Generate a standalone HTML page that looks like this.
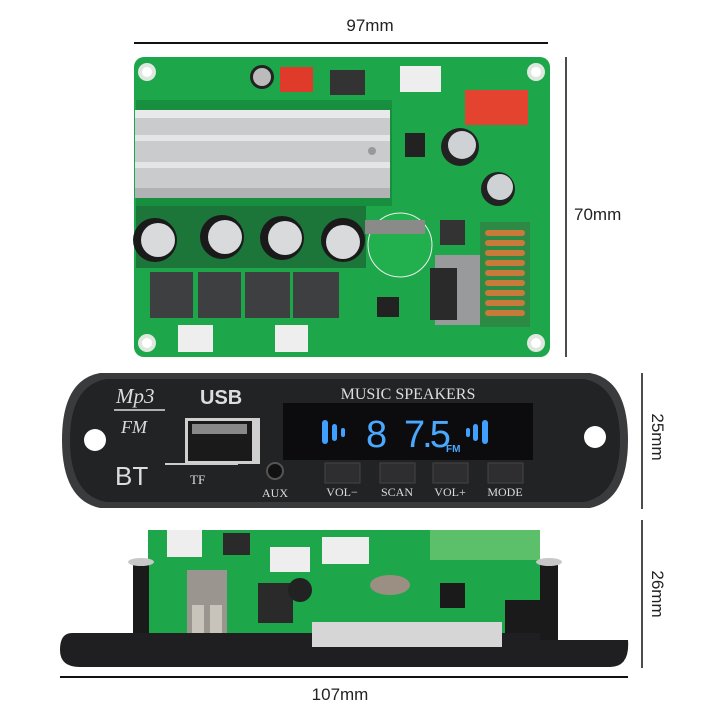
<!DOCTYPE html>
<html><head><meta charset="utf-8"><style>
html,body{margin:0;padding:0;background:#fff;}
svg{display:block;}
.s{font-family:"Liberation Sans",sans-serif;}
.r{font-family:"Liberation Serif",serif;}
</style></head><body>
<svg width="720" height="720" viewBox="0 0 720 720" xmlns="http://www.w3.org/2000/svg">
<rect width="720" height="720" fill="#fff"/>
<line x1="134" y1="43" x2="548" y2="43" stroke="#111" stroke-width="2"/>
<text class="s" x="370" y="31" font-size="17" text-anchor="middle" fill="#222">97mm</text>
<line x1="566" y1="57" x2="566" y2="357" stroke="#111" stroke-width="1.5"/>
<text class="s" x="574" y="220" font-size="17" fill="#222">70mm</text>
<line x1="642" y1="373" x2="642" y2="509" stroke="#111" stroke-width="1.5"/>
<text class="s" x="0" y="0" font-size="17" fill="#222" text-anchor="middle" transform="translate(652,437) rotate(90)">25mm</text>
<line x1="642" y1="520" x2="642" y2="668" stroke="#111" stroke-width="1.5"/>
<text class="s" x="0" y="0" font-size="17" fill="#222" text-anchor="middle" transform="translate(652,594) rotate(90)">26mm</text>
<line x1="60" y1="677" x2="628" y2="677" stroke="#111" stroke-width="2"/>
<text class="s" x="340" y="700" font-size="17" text-anchor="middle" fill="#222">107mm</text>

<rect x="134" y="57" width="416" height="300" rx="10" fill="#1ea64a"/>
<rect x="136" y="100" width="256" height="106" fill="#188f3e"/>
<rect x="136" y="206" width="230" height="62" fill="#1a1a1a" opacity="0.35"/>
<circle cx="147" cy="72" r="9" fill="#dfe8df"/><circle cx="147" cy="72" r="5" fill="#fff"/>
<circle cx="536" cy="72" r="9" fill="#dfe8df"/><circle cx="536" cy="72" r="5" fill="#fff"/>
<circle cx="147" cy="343" r="9" fill="#dfe8df"/><circle cx="147" cy="343" r="5" fill="#fff"/>
<circle cx="536" cy="343" r="9" fill="#dfe8df"/><circle cx="536" cy="343" r="5" fill="#fff"/>
<rect x="135" y="110" width="255" height="88" fill="#c9cbcd"/>
<rect x="135" y="110" width="255" height="8" fill="#e8e9ea"/>
<rect x="135" y="135" width="255" height="6" fill="#e4e5e6"/>
<rect x="135" y="162" width="255" height="6" fill="#e4e5e6"/>
<rect x="135" y="188" width="255" height="10" fill="#b0b2b4"/>
<circle cx="372" cy="151" r="4" fill="#999"/>
<rect x="280" y="67" width="33" height="25" fill="#e03a2a"/>
<rect x="465" y="90" width="63" height="35" fill="#e4442f"/>
<rect x="400" y="66" width="41" height="26" fill="#eee"/>
<rect x="330" y="70" width="35" height="25" fill="#333"/>
<circle cx="262" cy="77" r="12" fill="#222"/><circle cx="262" cy="77" r="9" fill="#bbb"/>
<circle cx="460" cy="147" r="19" fill="#222"/><circle cx="462" cy="145" r="14" fill="#cfd2d4"/>
<circle cx="498" cy="189" r="17" fill="#222"/><circle cx="500" cy="187" r="13" fill="#cfd2d4"/>
<rect x="405" y="133" width="20" height="24" fill="#222"/>
<circle cx="400" cy="245" r="32" fill="#22b04f" stroke="#eee" stroke-width="1"/>
<rect x="365" y="220" width="60" height="14" fill="#8a8a88"/>
<rect x="440" y="220" width="25" height="25" fill="#333"/>
<rect x="435" y="255" width="45" height="70" fill="#999a9c"/>
<rect x="430" y="268" width="27" height="52" fill="#2a2a2a"/>
<rect x="377" y="297" width="22" height="20" fill="#222"/>
<rect x="480" y="222" width="50" height="105" fill="#2c8a45"/>
<g fill="#c87a3a">
<rect x="485" y="230" width="40" height="6" rx="3"/><rect x="485" y="240" width="40" height="6" rx="3"/>
<rect x="485" y="250" width="40" height="6" rx="3"/><rect x="485" y="260" width="40" height="6" rx="3"/>
<rect x="485" y="270" width="40" height="6" rx="3"/><rect x="485" y="280" width="40" height="6" rx="3"/>
<rect x="485" y="290" width="40" height="6" rx="3"/><rect x="485" y="300" width="40" height="6" rx="3"/>
<rect x="485" y="310" width="40" height="6" rx="3"/></g>
<circle cx="155" cy="240" r="22" fill="#1a1a1a"/><circle cx="158" cy="240" r="17" fill="#d8dadb"/>
<circle cx="222" cy="237" r="22" fill="#1a1a1a"/><circle cx="225" cy="237" r="17" fill="#d8dadb"/>
<circle cx="282" cy="238" r="22" fill="#1a1a1a"/><circle cx="285" cy="238" r="17" fill="#d8dadb"/>
<circle cx="343" cy="240" r="22" fill="#1a1a1a"/><circle cx="343" cy="242" r="17" fill="#d8dadb"/>
<rect x="150" y="272" width="43" height="46" fill="#3d3f41"/>
<rect x="198" y="272" width="43" height="46" fill="#3d3f41"/>
<rect x="245" y="272" width="45" height="46" fill="#3d3f41"/>
<rect x="293" y="272" width="46" height="46" fill="#3d3f41"/>
<rect x="178" y="325" width="35" height="27" fill="#eee"/>
<rect x="275" y="325" width="33" height="27" fill="#eee"/>

<path d="M100,373 L590,373 Q628,380 628,440 Q628,500 590,508 L100,508 Q62,500 62,440 Q62,380 100,373 Z" fill="#3a3b3d"/>
<path d="M106,379 L584,379 Q620,386 620,440 Q620,495 584,502 L106,502 Q70,495 70,440 Q70,386 106,379 Z" fill="#222325"/>
<circle cx="95" cy="440" r="11" fill="#fff"/>
<circle cx="595" cy="437" r="11" fill="#fff"/>
<text class="r" x="116" y="403" font-size="21" font-style="italic" fill="#ddd">Mp3</text>
<line x1="114" y1="410" x2="165" y2="410" stroke="#ddd" stroke-width="1.5"/>
<text class="r" x="121" y="433" font-size="18" font-style="italic" fill="#ddd">FM</text>
<text class="s" x="200" y="404" font-size="20" font-weight="bold" fill="#ddd">USB</text>
<rect x="185" y="418" width="75" height="46" fill="#cfcfcf"/>
<rect x="188" y="421" width="64" height="40" fill="#1a1a1a"/>
<rect x="192" y="424" width="55" height="10" fill="#888"/>
<text class="s" x="115" y="485" font-size="26" fill="#ddd">BT</text>
<line x1="165" y1="464" x2="238" y2="464" stroke="#ccc" stroke-width="2"/>
<text class="r" x="190" y="484" font-size="13" fill="#ddd">TF</text>
<circle cx="275" cy="471" r="8" fill="#111" stroke="#555" stroke-width="2"/>
<text class="r" x="275" y="497" font-size="12" text-anchor="middle" fill="#ddd">AUX</text>
<text class="r" x="408" y="399" font-size="16" text-anchor="middle" fill="#ddd">MUSIC SPEAKERS</text>
<rect x="283" y="403" width="250" height="57" fill="#0c0c0e"/>
<text class="s" x="366" y="447" font-size="38" fill="#4aa8ff">8</text>
<text class="s" x="404" y="447" font-size="38" fill="#4aa8ff" letter-spacing="-3">7.5</text>
<text class="s" x="446" y="452" font-size="10" font-weight="bold" fill="#4aa8ff">FM</text>
<g fill="#3fa0ff"><rect x="322" y="420" width="6" height="24" rx="3"/><rect x="332" y="424" width="5" height="17" rx="2.5"/><rect x="341" y="428" width="4" height="9" rx="2"/>
<rect x="473" y="424" width="5" height="17" rx="2.5"/><rect x="482" y="420" width="6" height="24" rx="3"/><rect x="466" y="428" width="4" height="9" rx="2"/></g>
<g fill="#2e2e30" stroke="#444" stroke-width="1">
<rect x="325" y="463" width="35" height="20"/><rect x="380" y="463" width="35" height="20"/>
<rect x="433" y="463" width="35" height="20"/><rect x="488" y="463" width="35" height="20"/></g>
<g font-size="12" fill="#ddd" text-anchor="middle">
<text class="r" x="342" y="496">VOL−</text><text class="r" x="397" y="496">SCAN</text><text class="r" x="450" y="496">VOL+</text><text class="r" x="505" y="496">MODE</text></g>

<rect x="148" y="530" width="392" height="117" fill="#1ea64a"/>
<rect x="430" y="530" width="110" height="30" fill="#5cc06a"/>
<rect x="133" y="560" width="16" height="80" fill="#1a1a1a"/>
<rect x="540" y="560" width="18" height="80" fill="#1a1a1a"/>
<ellipse cx="141" cy="562" rx="13" ry="4" fill="#c8c8c8"/>
<ellipse cx="549" cy="562" rx="13" ry="4" fill="#c8c8c8"/>
<rect x="167" y="530" width="35" height="27" fill="#eee"/>
<rect x="223" y="533" width="27" height="22" fill="#2a2a2a"/>
<rect x="270" y="547" width="40" height="25" fill="#eee"/>
<rect x="322" y="537" width="47" height="27" fill="#eee"/>
<rect x="187" y="570" width="40" height="77" fill="#9a958e"/>
<rect x="192" y="605" width="12" height="35" fill="#c8c3bb"/><rect x="210" y="605" width="12" height="35" fill="#c8c3bb"/>
<rect x="258" y="583" width="35" height="40" fill="#2a2a2a"/>
<circle cx="300" cy="590" r="12" fill="#222"/>
<ellipse cx="390" cy="585" rx="20" ry="10" fill="#9b8f83"/>
<rect x="440" y="583" width="25" height="25" fill="#1a1a1a"/>
<rect x="312" y="622" width="190" height="25" fill="#d6d6d6"/>
<rect x="505" y="600" width="35" height="35" fill="#1a1a1a"/>
<path d="M72,633 L312,633 L312,647 L502,647 L502,633 L540,633 L540,640 L628,640 Q630,667 610,667 L80,667 Q60,667 60,650 Q60,633 72,633 Z" fill="#1f1f21"/>
</svg>
</body></html>
